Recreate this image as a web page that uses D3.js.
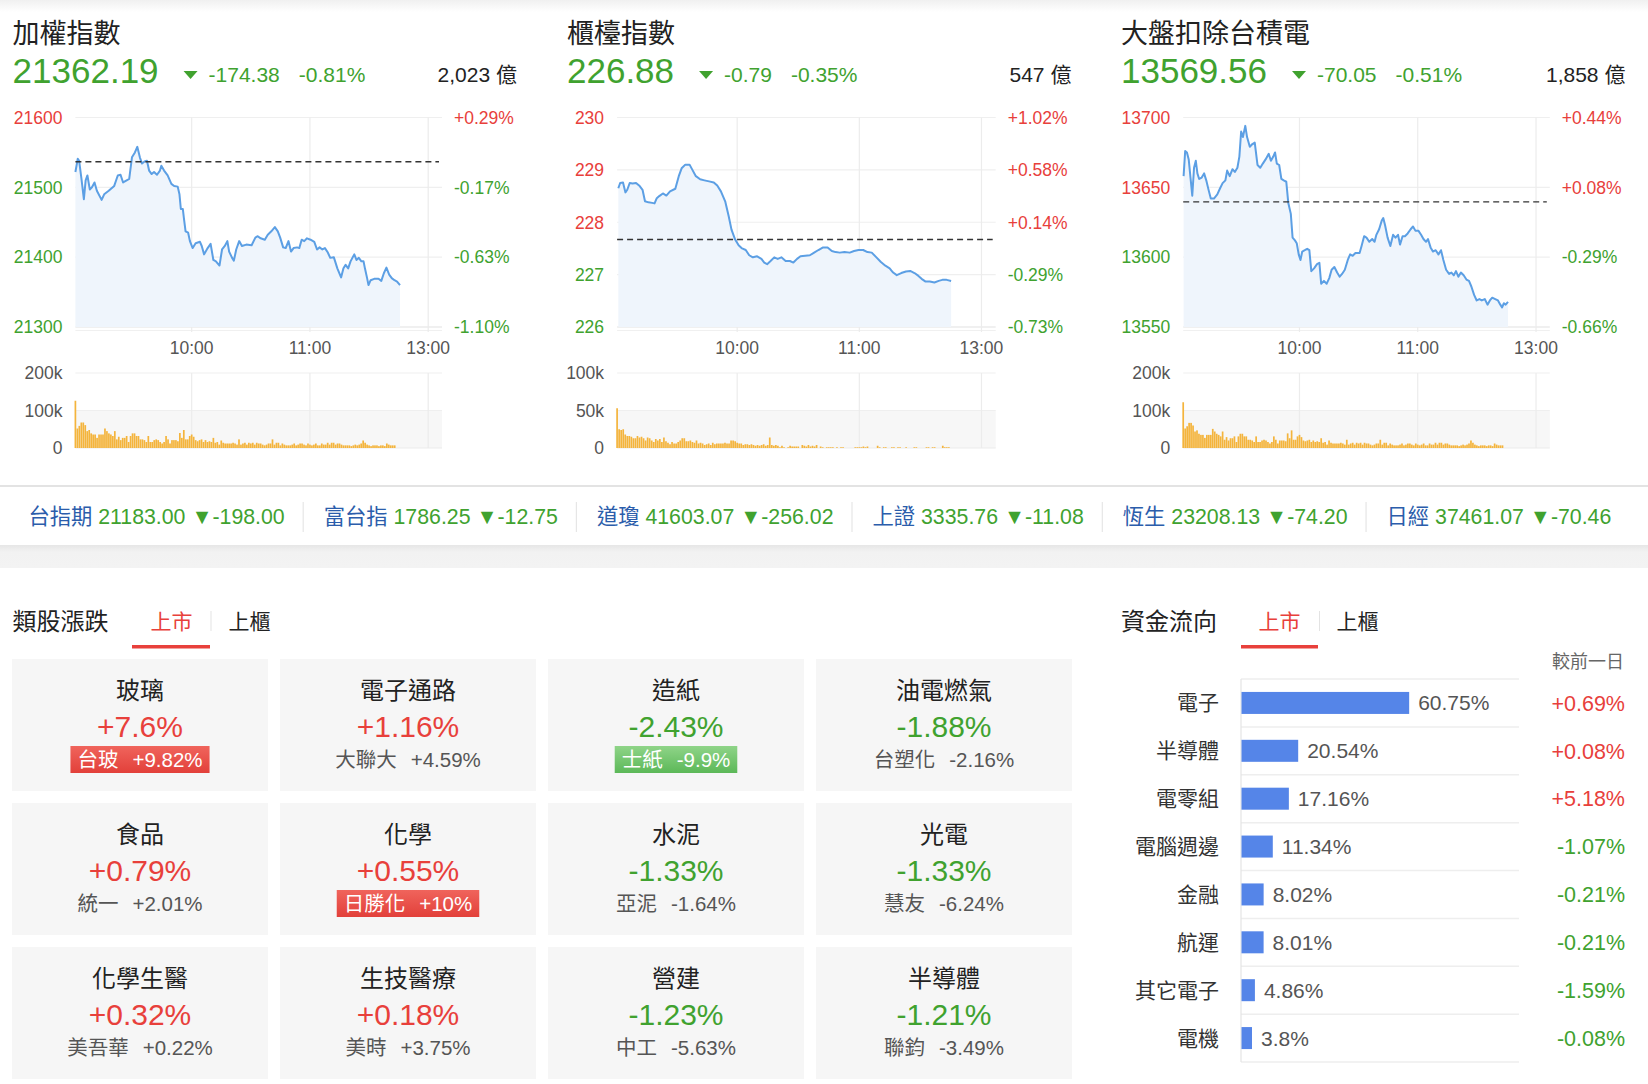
<!DOCTYPE html>
<html><head><meta charset="utf-8">
<script src="https://cdn.jsdelivr.net/npm/d3@7"></script>
<style>
html,body{margin:0;padding:0;background:#fff;}
svg{display:block;font-family:"Liberation Sans",Arial,"Noto Sans CJK TC",sans-serif;}
</style></head><body>
<svg id="c" width="1648" height="1084"></svg>
<script>
// ---------------- DATA ----------------
const panelNames = ["加權指數", "櫃檯指數", "大盤扣除台積電"];
const panelValues = [21362.19, 226.88, 13569.56];
const panelChanges = [-174.38, -0.79, -70.05];
const panelPcts = [-0.81, -0.35, -0.51];
const panelAmounts = ["2,023 億", "547 億", "1,858 億"];
const panelYTicks = [[21300, 21400, 21500, 21600], [226, 227, 228, 229, 230], [13550, 13600, 13650, 13700]];
const panelVolTicks = [[0, 100, 200], [0, 50, 100], [0, 100, 200]];
const xTickValues = [60, 120, 180];
const xTickLabels = ["10:00", "11:00", "13:00"];

// minutes after 09:00 and index value
const taiexTime = [1,2.2,2.9,4,5.3,6.2,7.1,8.3,9.4,10.7,11.9,14.3,15.6,17.9,20.7,22.5,23.9,25.2,27,28.3,29.7,31.2,32.4,33.7,34.8,36.1,37.3,38.4,39.7,40.9,42.4,43.9,44.6,46,47.8,49.7,51.1,52.9,53.8,54.5,55.5,56,56.9,58.2,59.1,60.5,62,64.2,65.1,66.3,68.1,69.6,71,72.3,74.1,75.4,76.8,78.1,79,80.5,81.4,82.6,84.1,85.5,87.7,90.4,92.3,93.5,95,97.1,98.6,100.4,102.2,103.7,104.9,106.4,107.7,109.1,110.4,111.7,113.5,114.6,115.8,117.1,118.5,120.3,122.2,123.6,124.9,126.3,127.6,129,130.3,132.1,133.9,135.8,137,138.1,139.4,140.6,142.5,143.6,144.8,146.1,147.2,147.9,149,149.7,150.8,152.6,154.8,156.2,157.5,158.8,160.2,161.5,162.9,164.2,165.7];
const taiexPrice = [21522,21541,21538,21514,21483,21510,21517,21497,21500,21507,21495,21482,21490,21495,21502,21517,21518,21507,21510,21512,21543,21550,21558,21543,21534,21537,21538,21524,21519,21522,21518,21524,21531,21524,21517,21505,21502,21501,21490,21469,21469,21457,21437,21435,21423,21413,21420,21422,21416,21404,21413,21419,21396,21394,21388,21411,21416,21423,21408,21399,21395,21411,21423,21416,21418,21417,21428,21430,21427,21425,21432,21437,21443,21437,21428,21414,21413,21423,21408,21413,21414,21413,21425,21423,21427,21425,21422,21411,21414,21411,21413,21407,21399,21400,21384,21371,21384,21389,21384,21394,21404,21396,21399,21394,21394,21384,21370,21360,21367,21369,21369,21366,21377,21385,21375,21370,21367,21365,21360];

const otcTime = [1.6,2.5,3.9,5.1,6,7.2,8.6,10.3,12.1,13.5,14.7,16.4,18.2,19.4,20.5,21.7,23.5,25.2,27,29.6,31.3,32.7,34.5,36.6,38,39.7,41.8,43.9,46.2,48.5,50.2,52,54.1,55.8,57.2,59,60.7,62.4,64.2,65.9,67.7,69.8,71.9,73.3,74.7,76.4,78.2,79.9,81.7,83.8,85.9,87.6,89.4,91.1,93.4,95.7,97.8,99.9,102.2,104.4,106.5,108.3,110.4,112.7,115.3,117.4,119.6,121.9,124,126.1,128.4,130.6,132.8,134.9,136.6,138.4,140.6,142.9,145,147.1,148.9,150.6,152.4,154.6,156.9,159,160.8,162.9,165.1];
const otcPrice = [228.65,228.75,228.76,228.57,228.62,228.75,228.74,228.75,228.69,228.62,228.40,228.38,228.37,228.36,228.46,228.50,228.55,228.51,228.59,228.64,228.88,229.03,229.10,229.10,229.00,228.88,228.82,228.80,228.78,228.76,228.70,228.59,228.40,228.12,227.86,227.67,227.56,227.50,227.47,227.37,227.33,227.35,227.30,227.23,227.20,227.26,227.33,227.30,227.33,227.26,227.26,227.23,227.30,227.35,227.36,227.37,227.42,227.47,227.52,227.52,227.45,227.43,227.42,227.43,227.42,227.45,227.47,227.47,227.43,227.42,227.33,227.24,227.17,227.12,227.04,226.99,227.03,227.06,227.07,227.03,226.98,226.92,226.87,226.87,226.85,226.88,226.90,226.90,226.88];

const exTsmcTime = [1.2,2,2.9,3.8,4.7,5.6,6.5,7.4,8.2,9.1,10.4,11.6,12.7,13.9,15,16.6,18.3,19.6,21,22.4,23.3,24.6,26,27.2,28.5,29.5,30.4,31.3,32.5,33.4,34.8,36.1,37.3,38.7,40.1,41.4,42.8,44.4,45.5,46.7,47.6,48.5,49.7,50.8,52,53.3,54.3,55.6,56.5,57.7,58.6,59.6,60.5,61.4,62.7,63.9,65,66,67.4,68.9,70.1,71,72.4,73.8,75.1,76.3,77.7,79.1,80.4,81.6,83,84.5,85.7,87,88.4,90.5,91.5,92.8,94,95.4,96.9,98.1,99,100.4,101.7,102.5,103.4,104.7,106.1,107.5,108.7,110,111,112.3,113.5,114.9,116.4,117.6,118.8,120.3,121.7,122.9,124.2,125.2,126.5,127.7,129.1,130.5,131.8,133,134.4,135.9,137.1,138.3,139.4,140.6,141.9,143.3,144.7,146,147.2,148.6,149.9,151.3,152.5,154,155.4,156.6,157.8,159.3,160.7,161.9,162.8,163.7,164.6,165.8];
const exTsmcPrice = [13658,13676,13675,13670,13657,13644,13664,13669,13660,13656,13657,13660,13655,13648,13642,13642,13645,13649,13653,13655,13662,13658,13663,13661,13664,13672,13690,13686,13694,13686,13679,13681,13682,13666,13664,13667,13670,13674,13669,13672,13675,13667,13666,13656,13655,13654,13639,13631,13614,13612,13610,13602,13598,13604,13605,13606,13605,13590,13592,13595,13596,13581,13583,13581,13585,13591,13593,13589,13586,13588,13591,13598,13602,13601,13603,13603,13608,13615,13614,13611,13613,13611,13616,13620,13626,13628,13623,13614,13608,13616,13614,13616,13609,13615,13615,13617,13620,13622,13619,13619,13616,13613,13611,13613,13607,13604,13605,13602,13605,13598,13591,13588,13589,13587,13590,13586,13589,13587,13584,13583,13579,13573,13569,13570,13569,13570,13566,13569,13571,13570,13569,13566,13564,13567,13566,13568];

// per-minute volume (thousand lots), minute 1, 2, 3 ...
const taiexVol = [126,52,59,68,68,61,45,48,39,36,36,27,36,36,36,52,45,39,36,32,45,23,30,21,27,27,32,16,32,39,39,32,32,23,23,21,16,32,16,16,21,23,21,16,12,16,32,23,12,21,21,21,18,40,27,48,23,23,32,36,30,21,18,21,23,16,21,16,18,16,27,14,16,9,20,14,12,12,12,12,14,12,9,23,9,12,14,9,14,12,14,9,14,12,12,9,7,9,12,12,23,9,14,14,7,12,9,7,7,7,9,12,7,9,12,12,9,7,12,9,7,9,12,7,7,12,9,9,14,9,14,14,9,12,12,9,7,7,7,7,5,7,9,7,9,12,20,14,9,7,5,7,7,7,5,7,7,5,12,9,7,7,7];
const otcVol = [53,25,24,25,18,16,16,15,13,13,16,14,15,13,10,14,13,10,8,12,10,12,8,14,9,7,5,8,6,6,8,10,13,13,9,9,10,8,7,10,6,7,6,4,5,6,4,7,5,6,6,6,6,7,6,6,10,10,9,7,6,6,4,5,5,4,5,4,3,4,3,4,5,3,4,14,4,3,4,3,1,3,1,0,1,3,2,2,2,2,0,4,3,2,4,2,3,2,4,0,2,1,0,1,1,1,1,0,1,0,1,1,0,0,0,0,0,1,1,1,1,2,1,2,0,0,0,0,3,1,0,1,1,0,0,1,1,0,1,1,0,0,1,0,0,0,1,1,0,0,0,0,1,1,0,1,1,0,0,0,3,1,1,1];
const exTsmcVol = [122,52,58,67,67,60,44,47,38,35,35,27,35,35,35,51,44,38,35,31,44,22,29,20,26,26,31,16,31,38,38,31,31,22,22,20,16,31,16,16,20,22,20,16,12,16,31,22,12,20,20,20,18,39,26,47,22,22,31,35,29,20,18,20,22,16,20,16,18,16,26,14,16,9,20,14,12,12,12,12,14,12,9,22,9,12,14,9,14,12,14,9,14,12,12,9,7,9,12,12,22,9,14,14,7,12,9,7,7,7,9,12,7,9,12,12,9,7,12,9,7,9,12,7,7,12,9,9,14,9,14,14,9,12,12,9,7,7,7,7,5,7,9,7,9,12,20,14,9,7,5,7,7,7,5,7,7,5,12,9,7,7,7];

const tickerNames = ["台指期", "富台指", "道瓊", "上證", "恆生", "日經"];
const tickerValues = [21183.00, 1786.25, 41603.07, 3335.76, 23208.13, 37461.07];
const tickerChanges = [-198.00, -12.75, -256.02, -11.08, -74.20, -70.46];

const sectorNames = ["玻璃", "電子通路", "造紙", "油電燃氣", "食品", "化學", "水泥", "光電", "化學生醫", "生技醫療", "營建", "半導體"];
const sectorPcts = [7.6, 1.16, -2.43, -1.88, 0.79, 0.55, -1.33, -1.33, 0.32, 0.18, -1.23, -1.21];
const leaderNames = ["台玻", "大聯大", "士紙", "台塑化", "統一", "日勝化", "亞泥", "慧友", "美吾華", "美時", "中工", "聯鈞"];
const leaderPcts = [9.82, 4.59, -9.9, -2.16, 2.01, 10, -1.64, -6.24, 0.22, 3.75, -5.63, -3.49];

const flowNames = ["電子", "半導體", "電零組", "電腦週邊", "金融", "航運", "其它電子", "電機"];
const flowShares = [60.75, 20.54, 17.16, 11.34, 8.02, 8.01, 4.86, 3.8];
const flowChanges = [0.69, 0.08, 5.18, -1.07, -0.21, -0.21, -1.59, -0.08];

// ---------------- DRAW ----------------
const RED = "#e8403b", GREEN = "#40a22f", TXT = "#222", SUB = "#555";
const svg = d3.select("#c");
const defs = svg.append("defs");
const tg = defs.append("linearGradient").attr("id", "topg").attr("x1", 0).attr("x2", 0).attr("y1", 0).attr("y2", 1);
tg.append("stop").attr("offset", 0).attr("stop-color", "#f0f0f0");
tg.append("stop").attr("offset", 1).attr("stop-color", "#ffffff");
const sg = defs.append("linearGradient").attr("id", "shadowg").attr("x1", 0).attr("x2", 0).attr("y1", 0).attr("y2", 1);
sg.append("stop").attr("offset", 0).attr("stop-color", "#e6e6e6");
sg.append("stop").attr("offset", 0.3).attr("stop-color", "#f2f2f2");
sg.append("stop").attr("offset", 1).attr("stop-color", "#f3f3f3");
const rg = defs.append("linearGradient").attr("id", "redg").attr("x1", 0).attr("x2", 0).attr("y1", 0).attr("y2", 1);
rg.append("stop").attr("offset", 0).attr("stop-color", "#f0645c");
rg.append("stop").attr("offset", 1).attr("stop-color", "#e2403a");
const gg = defs.append("linearGradient").attr("id", "greeng").attr("x1", 0).attr("x2", 0).attr("y1", 0).attr("y2", 1);
gg.append("stop").attr("offset", 0).attr("stop-color", "#8fd488");
gg.append("stop").attr("offset", 1).attr("stop-color", "#5cb858");

svg.append("rect").attr("x", 0).attr("y", 0).attr("width", 1648).attr("height", 12).attr("fill", "url(#topg)");

const panelTimes = [taiexTime, otcTime, exTsmcTime];
const panelPrices = [taiexPrice, otcPrice, exTsmcPrice];
const panelVols = [taiexVol, otcVol, exTsmcVol];
const layout = [
  {tx: 12.6, L: 75.4, R: 442},
  {tx: 567, L: 617.1, R: 995.7},
  {tx: 1121, L: 1183.2, R: 1549.8}
];
const PT = 117.5, PB = 327, VT = 373, VB = 448;
const AX = 17.5;
const sign = v => (v > 0 ? "+" : "") + v;

panelNames.forEach((name, i) => {
  const lo = layout[i];
  const g = svg.append("g");
  const prev = +(panelValues[i] - panelChanges[i]).toFixed(2);
  // header
  g.append("text").attr("x", lo.tx).attr("y", 43).attr("font-size", 27).attr("fill", TXT).text(name);
  const vt = g.append("text").attr("x", lo.tx).attr("y", 83).attr("font-size", 35).attr("fill", GREEN).text(panelValues[i].toFixed(2));
  const vEnd = lo.tx + vt.node().getComputedTextLength();
  const triX = vEnd + 25;
  g.append("path").attr("d", `M${triX},71 L${triX + 14},71 L${triX + 7},79 Z`).attr("fill", GREEN);
  const ct = g.append("text").attr("x", triX + 25).attr("y", 82).attr("font-size", 21).attr("fill", GREEN).text(panelChanges[i].toFixed(2));
  const cEnd = triX + 25 + ct.node().getComputedTextLength();
  g.append("text").attr("x", cEnd + 19).attr("y", 82).attr("font-size", 21).attr("fill", GREEN).text(panelPcts[i].toFixed(2) + "%");
  g.append("text").attr("x", lo.tx + 504.4).attr("y", 82).attr("text-anchor", "end").attr("font-size", 21).attr("fill", TXT).text(panelAmounts[i]);

  const yt = panelYTicks[i];
  const x = d3.scaleLinear().domain([1, 187]).range([lo.L, lo.R]);
  const y = d3.scaleLinear().domain([yt[0], yt[yt.length - 1]]).range([PB, PT]);
  const vmax = panelVolTicks[i][2];
  const yv = d3.scaleLinear().domain([0, vmax]).range([VB, VT]);

  // volume gray background
  g.append("rect").attr("x", lo.L).attr("y", yv(vmax / 2)).attr("width", lo.R - lo.L).attr("height", VB - yv(vmax / 2)).attr("fill", "#f7f7f7");
  // horizontal grid
  g.selectAll(".hg").data(yt).join("line").attr("x1", lo.L).attr("x2", lo.R).attr("y1", d => y(d)).attr("y2", d => y(d))
    .attr("stroke", (d, k) => k === 0 ? "#e2e2e2" : "#efefef").attr("stroke-width", 1.2);
  g.append("line").attr("x1", lo.L).attr("x2", lo.R).attr("y1", PB + 3.5).attr("y2", PB + 3.5).attr("stroke", "#f0f0f0").attr("stroke-width", 1.2);
  g.selectAll(".vg").data(panelVolTicks[i].slice(1)).join("line").attr("x1", lo.L).attr("x2", lo.R).attr("y1", d => yv(d)).attr("y2", d => yv(d))
    .attr("stroke", "#efefef").attr("stroke-width", 1.2);
  g.append("line").attr("x1", lo.L).attr("x2", lo.R).attr("y1", VB).attr("y2", VB).attr("stroke", "#ececec").attr("stroke-width", 1.2);
  // vertical grid
  g.selectAll(".xg").data(xTickValues).join("line").attr("x1", d => x(d)).attr("x2", d => x(d)).attr("y1", PT).attr("y2", PB + 5)
    .attr("stroke", "#ececec").attr("stroke-width", 1.2);
  g.selectAll(".xg2").data(xTickValues).join("line").attr("x1", d => x(d)).attr("x2", d => x(d)).attr("y1", VT).attr("y2", VB)
    .attr("stroke", "#ececec").attr("stroke-width", 1.2);

  // area + line
  const pts = panelTimes[i].map((t, k) => [t, panelPrices[i][k]]);
  g.append("path").datum(pts).attr("fill", "#eff5fc")
    .attr("d", d3.area().x(d => x(d[0])).y0(PB).y1(d => y(d[1])));
  g.append("path").datum(pts).attr("fill", "none").attr("stroke", "#5c9fe4").attr("stroke-width", 2).attr("stroke-linejoin", "round")
    .attr("d", d3.line().x(d => x(d[0])).y(d => y(d[1])));
  // prev close
  g.append("line").attr("x1", lo.L).attr("x2", lo.R - 3).attr("y1", y(prev)).attr("y2", y(prev))
    .attr("stroke", "#333").attr("stroke-width", 1.4).attr("stroke-dasharray", "6,4");

  // y labels
  g.selectAll(".yl").data(yt).join("text").attr("x", lo.L - 13).attr("y", d => y(d)).attr("dy", "0.36em")
    .attr("text-anchor", "end").attr("font-size", AX).attr("fill", d => d > prev ? RED : GREEN).text(d => d);
  g.selectAll(".yr").data(yt).join("text").attr("x", lo.R + 12).attr("y", d => y(d)).attr("dy", "0.36em")
    .attr("font-size", AX).attr("fill", d => d > prev ? RED : GREEN)
    .text(d => { const p = (d - prev) / prev * 100; return (p > 0 ? "+" : "") + p.toFixed(2) + "%"; });
  // x labels
  g.selectAll(".xl").data(xTickValues).join("text").attr("x", d => x(d)).attr("y", 348).attr("dy", "0.36em")
    .attr("text-anchor", "middle").attr("font-size", AX).attr("fill", SUB).text((d, k) => xTickLabels[k]);
  // volume labels
  g.selectAll(".vl").data(panelVolTicks[i]).join("text").attr("x", lo.L - 13).attr("y", d => yv(d)).attr("dy", "0.36em")
    .attr("text-anchor", "end").attr("font-size", AX).attr("fill", SUB).text(d => d ? d + "k" : "0");
  // volume bars
  g.selectAll(".vb").data(panelVols[i]).join("rect").attr("x", (d, k) => x(k + 1) - 0.85).attr("width", 1.7)
    .attr("y", d => yv(d)).attr("height", d => VB - yv(d)).attr("fill", "#f4b43c");
});

// ---------------- TICKER BAR ----------------
svg.append("rect").attr("x", 0).attr("y", 485).attr("width", 1648).attr("height", 2).attr("fill", "#e3e3e3");
svg.append("rect").attr("x", 0).attr("y", 545).attr("width", 1648).attr("height", 23).attr("fill", "url(#shadowg)");
let tx = 28.4;
tickerNames.forEach((n, i) => {
  const t = svg.append("text").attr("x", tx).attr("y", 524).attr("font-size", 21.3).attr("xml:space", "preserve");
  t.append("tspan").attr("fill", "#2b5dab").text(n);
  t.append("tspan").attr("fill", GREEN).text(" " + tickerValues[i].toFixed(2) + " ▼" + tickerChanges[i].toFixed(2));
  const w = t.node().getComputedTextLength();
  if (i < tickerNames.length - 1) {
    const sx = tx + w + 18.5;
    svg.append("line").attr("x1", sx).attr("x2", sx).attr("y1", 502).attr("y2", 532).attr("stroke", "#e6e6e6").attr("stroke-width", 1.2);
    tx = sx + 20.5;
  }
});

// ---------------- SECTION HEADERS ----------------
function sectionHeader(title, x0, tabX, ulX0, ulX1, sepX, tab2X) {
  svg.append("text").attr("x", x0).attr("y", 630).attr("font-size", 24).attr("fill", TXT).text(title);
  svg.append("text").attr("x", tabX).attr("y", 629).attr("font-size", 21).attr("fill", RED).text("上市");
  svg.append("rect").attr("x", ulX0).attr("y", 645).attr("width", ulX1 - ulX0).attr("height", 3.5).attr("fill", RED);
  svg.append("line").attr("x1", sepX).attr("x2", sepX).attr("y1", 611).attr("y2", 631).attr("stroke", "#e3e3e3").attr("stroke-width", 1);
  svg.append("text").attr("x", tab2X).attr("y", 629).attr("font-size", 21).attr("fill", TXT).text("上櫃");
}
sectionHeader("類股漲跌", 12.6, 150.6, 132, 210, 211, 228.6);
sectionHeader("資金流向", 1121, 1258.6, 1241, 1318, 1319.5, 1336.5);

// ---------------- SECTOR CARDS ----------------
sectorNames.forEach((n, i) => {
  const col = i % 4, row = Math.floor(i / 4);
  const cx = 12 + col * 268, cy = 659 + row * 144;
  const mid = cx + 128;
  const g = svg.append("g");
  g.append("rect").attr("x", cx).attr("y", cy).attr("width", 256).attr("height", 132).attr("fill", "#f6f6f6");
  g.append("text").attr("x", mid).attr("y", cy + 40).attr("text-anchor", "middle").attr("font-size", 24).attr("fill", TXT).text(n);
  g.append("text").attr("x", mid).attr("y", cy + 77.5).attr("text-anchor", "middle").attr("font-size", 30)
    .attr("fill", sectorPcts[i] > 0 ? RED : GREEN).text(sign(sectorPcts[i]) + "%");
  const lp = leaderPcts[i];
  const badge = Math.abs(lp) >= 9.5;
  const st = g.append("text").attr("x", mid).attr("y", cy + 107.5).attr("text-anchor", "middle").attr("font-size", 20.5)
    .attr("fill", badge ? "#fff" : SUB);
  st.append("tspan").text(leaderNames[i]);
  st.append("tspan").attr("dx", 14).text(sign(lp) + "%");
  if (badge) {
    const w = st.node().getComputedTextLength() + 14 + 14;
    g.insert("rect", "text:last-of-type").attr("x", mid - w / 2).attr("y", cy + 87).attr("width", w).attr("height", 27)
      .attr("fill", lp > 0 ? "url(#redg)" : "url(#greeng)");
  }
});

// ---------------- FUND FLOW ----------------
svg.append("text").attr("x", 1624).attr("y", 668).attr("text-anchor", "end").attr("font-size", 18).attr("fill", "#666").text("較前一日");
const fy = d3.scaleBand().domain(flowNames).range([679, 1062]);
const fx = d3.scaleLinear().domain([0, 100]).range([1241.5, 1517.5]);
svg.selectAll(".fl").data(d3.range(flowNames.length + 1)).join("line")
  .attr("x1", 1241).attr("x2", 1519).attr("y1", k => 679 + k * fy.step()).attr("y2", k => 679 + k * fy.step())
  .attr("stroke", "#eeeeee").attr("stroke-width", 1.5);
svg.append("line").attr("x1", 1241).attr("x2", 1241).attr("y1", 679).attr("y2", 1062).attr("stroke", "#e4e4e4").attr("stroke-width", 1.2);
flowNames.forEach((n, i) => {
  const c = fy(n) + fy.bandwidth() / 2;
  svg.append("text").attr("x", 1219).attr("y", c).attr("dy", "0.36em").attr("text-anchor", "end").attr("font-size", 21).attr("fill", "#333").text(n);
  svg.append("rect").attr("x", fx(0)).attr("y", c - 11).attr("width", fx(flowShares[i]) - fx(0)).attr("height", 22).attr("fill", "#5585e8");
  svg.append("text").attr("x", fx(flowShares[i]) + 9).attr("y", c).attr("dy", "0.36em").attr("font-size", 21).attr("fill", SUB).text(flowShares[i] + "%");
  svg.append("text").attr("x", 1625).attr("y", c).attr("dy", "0.36em").attr("text-anchor", "end").attr("font-size", 21.5)
    .attr("fill", flowChanges[i] > 0 ? RED : GREEN).text(sign(flowChanges[i]) + "%");
});
</script></body></html>
